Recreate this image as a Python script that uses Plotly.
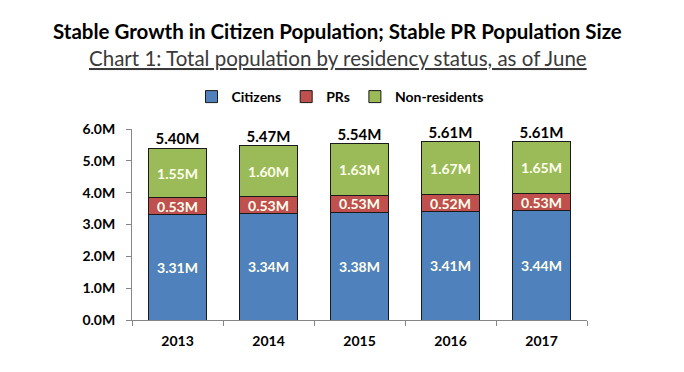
import plotly.graph_objects as go

years = ["2013", "2014", "2015", "2016", "2017"]
citizens = [3.31, 3.34, 3.38, 3.41, 3.44]
prs = [0.53, 0.53, 0.53, 0.52, 0.53]
non_residents = [1.55, 1.60, 1.63, 1.67, 1.65]
totals = [5.40, 5.47, 5.54, 5.61, 5.61]
y_ticks = [0, 1, 2, 3, 4, 5, 6]

FONT = "Lato"
W, H = 684, 372
OFF = 8  # browser body margin
L, R, T, B = 132 - OFF, 105, 129 - OFF, 60
pw, ph = W - L - R, H - T - B

def px_x(x):
    return (x - OFF - L) / pw

def px_y(y):
    return (H - B - (y - OFF)) / ph

fig = go.Figure()
series = [("Citizens", citizens, "#4F81BD"), ("PRs", prs, "#C0504D"),
          ("Non-residents", non_residents, "#9BBB59")]
for name, vals, col in series:
    fig.add_trace(go.Bar(
        name=name, x=years, y=vals,
        marker=dict(color=col, line=dict(color="#1a1a1a", width=1)),
        text=[f"{v:.2f}M" for v in vals],
        textposition="inside", insidetextanchor="middle",
        textfont=dict(family=FONT, size=14, color="#FFFFEE", weight="bold"),
    ))

fig.add_trace(go.Scatter(
    x=years, y=totals, mode="text",
    text=[f"<b>{v:.2f}M</b>" for v in totals],
    textposition="top center", cliponaxis=False,
    textfont=dict(family=FONT, size=15, color="#000000"),
    showlegend=False, hoverinfo="skip",
))

fig.update_layout(
    width=W, height=H, barmode="stack", bargap=0.36,
    margin=dict(l=L, r=R, t=T, b=B),
    plot_bgcolor="white", paper_bgcolor="white",
    font=dict(family=FONT, size=12, color="#000000"),
    uniformtext=dict(minsize=14, mode="show"),
    showlegend=True,
    legend=dict(orientation="h", x=px_x(340), xanchor="center",
                y=px_y(97), yanchor="middle",
                font=dict(family=FONT, size=14, weight="bold"),
                itemwidth=30, tracegroupgap=0, traceorder="normal"),
    xaxis=dict(showline=True, linecolor="#868686", linewidth=1,
               ticks="outside", tickson="boundaries", tickcolor="#868686",
               ticklen=5, showgrid=False, ticklabelstandoff=8,
               tickfont=dict(family=FONT, size=14, weight="bold")),
    yaxis=dict(range=[0, 6], tickvals=y_ticks,
               ticktext=[f"{v:.1f}M" for v in y_ticks],
               showline=True, linecolor="#868686", linewidth=1,
               ticks="outside", tickcolor="#868686", ticklen=5,
               showgrid=False, zeroline=False, ticklabelstandoff=8,
               tickfont=dict(family=FONT, size=14, weight="bold")),
    annotations=[
        dict(text="<b>Stable Growth in Citizen Population; Stable PR Population Size</b>",
             x=px_x(337.5), y=px_y(31), xref="paper", yref="paper",
             xanchor="center", yanchor="middle",
             showarrow=False, font=dict(family=FONT, size=20.5, color="#000000")),
        dict(text="<u>Chart 1: Total population by residency status, as of June</u>",
             x=px_x(337.5), y=px_y(58), xref="paper", yref="paper",
             xanchor="center", yanchor="middle",
             showarrow=False, font=dict(family=FONT, size=20.5, color="#3a3a3a")),
    ],
)

fig.write_html("out.html")
